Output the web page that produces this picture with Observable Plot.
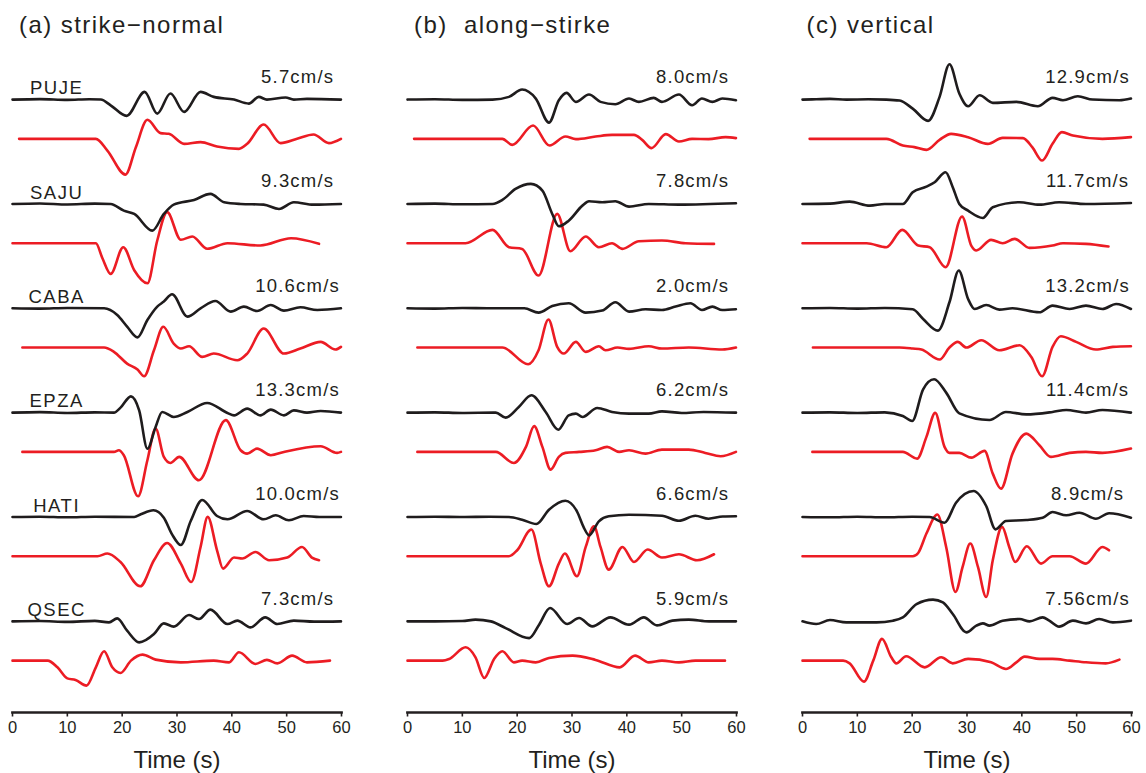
<!DOCTYPE html>
<html>
<head>
<meta charset="utf-8">
<script src="https://cdn.jsdelivr.net/npm/d3@7"></script>
<script src="https://cdn.jsdelivr.net/npm/@observablehq/plot@0.6"></script>
<style>
  body { margin: 0; background: #fff; }
  #fig { position: relative; width: 1146px; height: 773px; overflow: hidden; }
  #fig > div { position: absolute; top: 0; width: 360px; height: 773px; }
  #fig svg { overflow: visible; max-width: none; }
</style>
</head>
<body>
<div id="fig"></div>
<script>
// Stations, top to bottom
const stations = ["PUJE", "SAJU", "CABA", "EPZA", "HATI", "QSEC"];

// Peak observed ground velocity (cm/s) per station and component
const peakStrikeNormal = [5.7, 9.3, 10.6, 13.3, 10.0, 7.3];
const peakAlongStrike = [8.0, 7.8, 2.0, 6.2, 6.6, 5.9];
const peakVertical = [12.9, 11.7, 13.2, 11.4, 8.9, 7.56];

const timeTicks = [0, 10, 20, 30, 40, 50, 60];

// Normalised velocity traces: [time (s), amplitude]
// ---- strike-normal, observed ----
const snObsPUJE = [[0,0],[5,0.05],[10,-0.03],[14,0.03],[16.1,0],[17.9,-0.57],[20.8,-1.63],[24.1,0.77],[26.4,-1.4],[28.8,0.6],[31.3,-1.23],[34.3,0.77],[36.7,0.27],[40.4,0],[43.1,-0.4],[44.9,0.27],[46.4,0],[49.8,0.2],[51.3,0],[53.7,0.07],[59.9,0]];
const snObsSAJU = [[0,0],[5,0.05],[10,-0.05],[15,0.03],[17.9,0],[20.3,-0.67],[22.2,-1.0],[25.5,-2.67],[27.6,-1.0],[29.4,-0.07],[33.1,0.4],[36.1,1.0],[38.6,0.17],[41.6,0],[45.8,-0.07],[48.6,-0.5],[51.3,0.17],[54.9,-0.07],[59.9,0]];
const snObsCABA = [[0,0],[5,-0.03],[10,0.03],[16.7,0],[19.1,-0.67],[20.9,-1.83],[22.8,-2.9],[24.6,-1.17],[26.4,0.17],[27.6,0.67],[29.1,1.4],[31.9,-0.83],[34.3,0],[37.0,0.73],[39.8,-0.33],[42.2,0.17],[44.6,-0.27],[47.1,0.33],[49.5,-0.23],[52.5,0.1],[55.6,-0.17],[59.9,0]];
const snObsEPZA = [[0,0],[5,0.05],[10,-0.03],[15,0.03],[18.5,0],[19.7,0.5],[21.6,1.63],[23.1,0.23],[24.6,-3.6],[26.1,-1.43],[27.3,0.07],[29.4,-0.43],[31.9,0.07],[35.5,0.97],[39.2,-0.03],[40.4,-0.27],[42.8,0.4],[45.2,-0.27],[47.1,0.3],[49.5,-0.27],[51.3,0.23],[53.7,0],[56.2,0.17],[59.9,0]];
const snObsHATI = [[0,0],[5,0.03],[10,-0.03],[15,0.03],[22.2,0],[23.4,0.27],[25.7,0.67],[27.6,-0.07],[29.1,-1.73],[30.7,-2.8],[32.5,-0.4],[34.6,1.7],[37.3,0.1],[39.2,-0.23],[42.8,0.6],[45.8,-0.23],[48.0,0.17],[50.4,-0.33],[53.1,0.1],[56,0],[59.9,0]];
const snObsQSEC = [[0,0],[5,0.03],[10,-0.05],[15,0.05],[17.6,-0.1],[19.1,0.3],[20.9,-0.93],[23.1,-2.1],[25.8,-1.27],[27.6,-0.2],[29.4,-0.53],[32.2,0.63],[34.0,0.23],[36.1,1.17],[39.2,-0.27],[41.0,0.07],[43.4,-0.6],[46.1,0.4],[48.3,-0.27],[51.3,0.07],[55,-0.03],[59.9,0]];
// ---- strike-normal, synthetic ----
const snSynPUJE = [[1.2,0],[15.2,0],[17.3,-1.17],[20.6,-3.57],[22.5,-0.83],[24.6,1.9],[27.0,0.57],[28.5,0.5],[31.3,-0.5],[34.3,-0.33],[37.3,-0.77],[41.3,-1.0],[42.8,-0.5],[45.8,1.43],[48.9,-0.43],[51.9,0],[54.9,0.43],[57.7,-0.43],[59.9,0]];
const snSynSAJU = [[0,0],[15.2,0],[16.4,-1.5],[17.9,-3.06],[20.2,-0.4],[22.2,-2.7],[24.6,-4.0],[26.4,0.27],[28.2,3.1],[30.7,0.34],[32.8,0.67],[35.5,-0.56],[39.2,0],[45.2,-0.23],[50.8,0.5],[55.9,-0.06]];
const snSynCABA = [[1.8,0],[16.7,0],[18.5,-0.43],[20.9,-1.6],[22.8,-2.2],[24.0,-2.87],[25.8,-0.27],[27.5,2.07],[29.4,0.4],[30.7,-0.1],[32.2,0.13],[34.6,-0.93],[36.7,-0.6],[41.0,-1.27],[42.8,-0.6],[45.8,1.9],[49.5,-0.6],[52.5,-0.1],[56.2,0.57],[58.9,-0.2],[59.9,0.07]];
const snSynEPZA = [[1.8,0],[18.5,0],[19.4,0.17],[20.3,-0.33],[22.9,-4.43],[24.6,-0.83],[26.1,2.33],[27.6,-0.5],[28.8,-1.1],[30.4,-0.5],[34.0,-2.83],[38.9,3.17],[41.6,0.17],[42.8,-0.17],[44.6,0.33],[47.1,-0.33],[49.5,0],[56.2,0.57],[59.2,-0.1],[59.9,0]];
const snSynHATI = [[0,0],[15.5,0],[17.3,0.27],[19.7,-0.57],[23.3,-3.0],[25.8,-0.4],[28.2,1.33],[30.7,-0.73],[32.6,-2.57],[34.3,0.93],[35.6,3.93],[37.3,0.6],[38.4,-1.23],[40.4,-0.13],[41.9,-0.23],[44.3,0.43],[46.8,-0.4],[50.1,-0.13],[52.8,0.93],[54.6,-0.13],[55.9,-0.4]];
const snSynQSEC = [[0,0],[6.4,0],[8.2,-0.67],[10.0,-1.77],[11.5,-1.93],[13.5,-2.5],[15.2,-0.67],[16.7,0.93],[18.2,-0.67],[19.7,-1.23],[21.6,0],[23.7,0.6],[26.1,0.1],[30.7,-0.17],[36.7,0],[39.5,-0.17],[41.3,0.83],[44.3,-0.33],[46.4,0.07],[48.3,-0.27],[51.0,0.5],[53.7,-0.17],[57.9,0]];

// ---- along-strike, observed ----
const asObsPUJE = [[0,0],[5,0.03],[10,-0.03],[15.5,0],[18.5,0.27],[20.9,1.0],[23.4,0.1],[25.8,-2.3],[27.6,-0.07],[29.0,0.67],[30.7,-0.23],[33.1,0.5],[35.2,-0.23],[37.9,-0.47],[40.4,0.1],[42.2,-0.23],[44.9,0.17],[46.4,-0.23],[49.5,0.5],[51.9,-0.57],[53.7,0.1],[55.6,-0.23],[57.4,0.1],[59.9,-0.07]];
const asObsSAJU = [[0,0],[5,0.03],[10,-0.03],[15.5,0],[17.3,0.4],[19.7,1.5],[22.5,2.0],[24.6,1.33],[26.4,-1.0],[27.6,-2.23],[29.4,-1.67],[31.9,-0.17],[33.1,0.27],[35.5,0.17],[37.9,0.27],[40.4,-0.27],[44.0,0],[49.5,-0.07],[59.9,0.07]];
const asObsCABA = [[0,0],[5,-0.03],[10,0.03],[15,0],[21.3,0],[23.9,-0.43],[26.4,0.23],[29.4,0.5],[32.5,-0.43],[35.5,-0.23],[37.9,0.6],[40.4,-0.33],[43.4,-0.1],[46.4,-0.17],[48.9,0.17],[51.6,0.5],[53.7,-0.17],[55.6,0.17],[57.4,-0.17],[59.9,-0.1]];
const asObsEPZA = [[0,0],[5,0.03],[10,-0.03],[16.1,0],[17.9,-0.5],[20.3,0.57],[22.6,1.73],[25.2,0.07],[27.5,-1.7],[29.4,-0.27],[30.7,-0.1],[31.9,-0.43],[34.6,0.47],[37.3,0.07],[40.4,-0.1],[44.0,-0.1],[46.4,0.13],[50,-0.03],[54,0.07],[59.9,0]];
const asObsHATI = [[0,0],[5,0.03],[10,0],[15,0.03],[18.5,0],[20.9,-0.27],[23.5,-0.7],[25.8,0.73],[28.8,1.63],[30.9,0.57],[32.2,-1.1],[33.1,-1.83],[34.9,-0.43],[36.7,0.07],[40.4,0.23],[46.4,0.13],[49.5,-0.37],[52.5,0.13],[54.9,-0.17],[57.5,0.05],[59.9,0.07]];
const asObsQSEC = [[0,0],[5,0],[10,0.03],[12.4,0.17],[15.2,0],[17.9,-0.67],[22.2,-1.67],[24.0,-0.33],[26.0,1.33],[29.1,-0.27],[31.3,0.33],[33.7,-0.5],[37.0,0.4],[40.4,-0.33],[43.1,0.4],[45.5,-0.4],[48.3,0.07],[51.3,0.17],[55,0],[59.9,0]];
// ---- along-strike, synthetic ----
const asSynPUJE = [[1.2,0],[17.3,0],[19.1,-0.6],[22.9,1.33],[25.9,-0.67],[28.8,0.23],[30.7,-0.03],[34.3,0.23],[37.3,0.4],[41.3,0.4],[42.8,-0.1],[44.5,-0.93],[47.1,0.47],[49.5,-0.27],[51.9,0],[54.9,-0.03],[58.0,0.17],[59.9,0.07]];
const asSynSAJU = [[0,0],[10.6,0],[15.5,1.33],[18.5,-0.4],[20.9,-0.57],[23.9,-3.23],[27.3,2.93],[29.7,-0.8],[32.5,0.67],[34.9,-0.4],[37.3,0],[39.2,-0.57],[42.2,0.2],[46.4,0.27],[50.7,0],[55.9,-0.07]];
const asSynCABA = [[1.8,0],[17.3,0],[22.0,-1.67],[23.9,-0.27],[25.7,2.8],[27.3,0.07],[28.5,-0.6],[30.7,0.57],[32.5,-0.43],[34.9,0.13],[36.1,-0.27],[38.3,0],[40.4,-0.13],[44.0,0.13],[46.4,-0.1],[51.3,0],[57.4,-0.2],[59.9,0]];
const asSynEPZA = [[1.8,0],[16.1,0],[19.4,-1.1],[21.6,0.5],[23.1,2.57],[24.6,0.5],[26.1,-1.77],[27.6,-0.5],[28.8,-0.1],[31.3,0],[34.3,0.17],[36.4,0.5],[38.6,0],[40.4,0.17],[43.4,-0.17],[46.4,0.23],[51.3,0.23],[54.3,-0.1],[57.1,-0.43],[59.9,0]];
const asSynHATI = [[0,0],[18.5,0],[20.0,0.6],[22.6,2.67],[24.3,-0.73],[25.8,-3.0],[27.6,-0.73],[28.7,0.27],[30.9,-2.0],[32.5,0.93],[34.0,3.0],[35.2,0.93],[36.7,-1.33],[39.2,0.93],[41.3,-0.57],[43.8,0.67],[46.4,-0.13],[49.5,0.2],[52.8,-0.4],[55.9,0.2]];
const asSynQSEC = [[0,0],[6.4,0],[7.6,0.17],[10.6,1.33],[12.4,0.33],[14.0,-1.73],[15.8,0.17],[17.3,0.93],[19.4,-0.17],[20.9,0],[23.4,-0.17],[25.8,0.27],[30.1,0.5],[34.3,0.07],[38.7,-0.67],[41.5,0.5],[44.0,-0.17],[46.4,0],[49.5,-0.17],[52.5,0],[57.9,0]];

// ---- vertical, observed ----
const vtObsPUJE = [[0,0],[2.5,0.03],[5,0.07],[8,0],[12,0.03],[15.3,0],[17.7,-0.1],[20.1,-0.9],[22.9,-2.13],[25.0,0.27],[26.8,3.53],[28.6,0.6],[30.2,-0.67],[32.3,0.43],[34.7,-0.33],[39.0,-0.23],[42.9,-0.67],[45.6,0.17],[47.5,-0.07],[50.2,0.33],[52.9,0],[57.8,-0.07],[59.9,0.1]];
const vtObsSAJU = [[0,0],[5,0.03],[8.6,0.23],[12.3,-0.17],[15,0],[18.3,0],[20.1,1.17],[22.6,1.73],[24.1,2.17],[26.1,3.17],[27.4,1.67],[28.6,0],[30.2,-0.67],[32.9,-1.4],[34.7,-0.33],[39.6,0.17],[43.2,-0.07],[46.8,0.17],[51.7,0],[59.9,0.1]];
const vtObsCABA = [[0,0],[5,0.03],[10,-0.03],[15,0.03],[20.1,-0.1],[22.0,-1.07],[24.7,-2.23],[26.8,0.6],[28.5,3.77],[30.2,0.93],[31.4,-0.07],[33.5,0.33],[35.9,-0.13],[38.3,0],[43.2,-0.4],[45.6,0.27],[48.7,-0.07],[51.7,0.27],[54.7,-0.07],[57.2,0.43],[59.9,-0.07]];
const vtObsEPZA = [[0,0],[5,0.03],[10,-0.03],[15,0.03],[18.3,-0.33],[20.0,-0.83],[22.0,2.33],[24.0,3.33],[26.2,2.0],[28.6,-0.07],[34.1,-0.73],[37.1,0.07],[40.8,-0.17],[45.6,0.07],[48.1,0.27],[51.7,0],[54.7,0.27],[59.9,0]];
const vtObsHATI = [[0,0],[5,-0.03],[10,0.03],[15,-0.03],[20,0.03],[23.2,0],[25.9,-0.57],[28.0,1.43],[31.2,2.6],[33.5,1.1],[35.2,-1.23],[37.1,-0.4],[40.8,-0.3],[43.8,-0.07],[45.6,0.5],[48.1,0.17],[50.5,0.43],[53.5,-0.17],[55.9,0.37],[59.9,-0.07]];
const vtObsQSEC = [[0,0],[2.5,-0.27],[5,0.13],[8,-0.1],[13.5,-0.1],[16.5,0.07],[18.3,0.4],[20.8,1.73],[23.8,2.17],[25.6,1.9],[27.4,0.73],[29.9,-1.1],[31.7,-0.43],[32.9,-0.2],[34.1,-0.43],[36.5,0.07],[39.6,0.23],[41.4,0],[43.8,0.4],[45.0,0.07],[46.8,-0.53],[49.3,0.07],[51.7,-0.2],[54.1,0.23],[56.6,-0.1],[59.9,0.07]];
// ---- vertical, synthetic ----
const vtSynPUJE = [[1.3,0],[15.3,0],[18.3,-0.67],[20.4,-0.83],[22.6,-1.1],[25.0,-0.1],[27.1,0.5],[30.2,0.17],[33.8,-0.5],[36.5,0.1],[40.2,0.07],[41.9,-0.83],[43.7,-2.17],[45.6,-0.5],[47.3,0.67],[49.3,0.33],[54.7,0],[59.9,0.17]];
const vtSynSAJU = [[0,0],[11.7,0],[15.3,-0.4],[18.2,1.33],[21.1,-0.23],[23.2,-0.4],[26.1,-2.4],[29.1,2.67],[30.8,-0.27],[31.7,-0.73],[34.4,0.33],[36.5,0],[38.7,0.43],[41.4,-0.47],[45.6,-0.23],[47.5,0],[51.7,-0.07],[55.8,-0.33]];
const vtSynCABA = [[1.9,0],[17.7,0],[20.1,-0.1],[21.7,-0.2],[25.0,-1.2],[26.8,0],[28.3,0.57],[29.9,0],[32.6,0.73],[35.9,-0.27],[39.6,0.23],[41.7,-0.93],[43.7,-2.87],[45.6,0.07],[47.1,1.13],[49.9,0.57],[53.5,-0.2],[56.6,0.07],[59.9,0.13]];
const vtSynEPZA = [[1.8,0],[18.3,0],[20.9,-0.67],[22.6,1.5],[24.2,3.9],[25.9,0.5],[26.8,-0.1],[28.6,-0.1],[30.8,-0.57],[33.2,0.1],[34.7,-2.17],[36.2,-3.67],[38.3,-0.17],[40.8,1.83],[43.2,0.67],[45.3,-0.5],[48.7,-0.1],[51.7,0],[54.7,-0.1],[59.9,0.33]];
const vtSynHATI = [[0,0],[20.1,0],[21.1,0.33],[22.6,2.27],[24.6,4.17],[26.2,0.93],[27.9,-3.57],[29.2,-1.07],[30.6,1.27],[32.0,-1.07],[33.5,-4.07],[34.7,-0.4],[36.4,2.93],[37.7,0.93],[38.8,-0.57],[40.9,1.0],[43.5,-0.73],[45.6,0],[48.7,0],[51.7,-0.73],[54.7,0.93],[55.9,0.6]];
const vtSynQSEC = [[0,0],[7.4,0],[8.6,-0.27],[11.2,-2.1],[12.9,0],[14.5,2.17],[16.2,0.33],[17.1,-0.27],[18.9,0.43],[22.3,-0.67],[25.3,0.33],[27.4,-0.27],[30.2,0.17],[34.4,-0.17],[37.1,-0.83],[39.0,-0.17],[40.5,0.4],[43.2,0.17],[45.6,0.17],[48.7,0],[51.7,-0.17],[55.3,-0.27],[57.8,0.1]];

// ---------------------------------------------------------------
const BLACK = "#1f1c1d";
const RED = "#ec1c24";
const INK = "#231f20";
const FONT = "'Liberation Sans', Arial, Helvetica, sans-serif";

const ROW_STEP = 10.42;   // vertical spacing between stations (amplitude units)
const SYN_SHIFT = 3.92;   // synthetic trace sits below the observed one

const panels = [
  {title: "(a) strike\u2212normal", left: 0, peaks: peakStrikeNormal, names: true,
   obs: [snObsPUJE, snObsSAJU, snObsCABA, snObsEPZA, snObsHATI, snObsQSEC],
   syn: [snSynPUJE, snSynSAJU, snSynCABA, snSynEPZA, snSynHATI, snSynQSEC], titleDx: 6.5},
  {title: "(b)  along\u2212stirke", left: 395, peaks: peakAlongStrike, names: false,
   obs: [asObsPUJE, asObsSAJU, asObsCABA, asObsEPZA, asObsHATI, asObsQSEC],
   syn: [asSynPUJE, asSynSAJU, asSynCABA, asSynEPZA, asSynHATI, asSynQSEC], titleDx: 6.5},
  {title: "(c) vertical", left: 790, peaks: peakVertical, names: false,
   obs: [vtObsPUJE, vtObsSAJU, vtObsCABA, vtObsEPZA, vtObsHATI, vtObsQSEC],
   syn: [vtSynPUJE, vtSynSAJU, vtSynCABA, vtSynEPZA, vtSynHATI, vtSynQSEC], titleDx: 4}
];

const fmtPeak = v => (Number.isInteger(Math.round(v * 100) / 10) ? v.toFixed(1) : String(v)) + "cm/s";

function rowsOf(traces, kind) {
  const out = [];
  traces.forEach((pts, k) => {
    const base = -ROW_STEP * k - (kind === "syn" ? SYN_SHIFT : 0);
    for (const [t, a] of pts) out.push({id: `${kind}-${k}`, t, y: base + a});
  });
  return out;
}

const fig = document.getElementById("fig");

for (const p of panels) {
  const synRows = rowsOf(p.syn, "syn");
  const obsRows = rowsOf(p.obs, "obs");
  const labels = stations.map((s, k) => ({s, k, base: -ROW_STEP * k, peak: p.peaks[k]}));

  const chart = Plot.plot({
    width: 360,
    height: 773,
    marginLeft: 12,
    marginRight: 19,
    marginTop: 49,
    marginBottom: 61,
    style: {fontFamily: FONT, color: INK, background: "transparent", maxWidth: "none"},
    x: {domain: [0, 60]},
    y: {domain: [5, -61], range: [49, 710], axis: null},
    marks: [
      Plot.line(synRows, {x: "t", y: "y", z: "id", stroke: RED, strokeWidth: 2.6, curve: "monotone-x"}),
      Plot.line(obsRows, {x: "t", y: "y", z: "id", stroke: BLACK, strokeWidth: 2.6, curve: "monotone-x"}),
      Plot.text(labels, {x: 52, y: d => d.base + 1.66, text: d => fmtPeak(d.peak), textAnchor: "middle",
        lineAnchor: "bottom", fontSize: 18.5, fill: INK}),
      p.names ? Plot.text(labels, {x: 8.05, y: d => d.base + 0.53, text: "s", textAnchor: "middle",
        lineAnchor: "bottom", fontSize: 18.5, fill: INK}) : null,
      Plot.frame({anchor: "bottom", stroke: INK, strokeWidth: 2.7}),
      Plot.axisX({ticks: timeTicks, tickSize: 4.5, tickPadding: 4.5, fontSize: 16.5, stroke: INK,
        strokeWidth: 1.6, strokeOpacity: 1, fill: INK, label: null}),
      Plot.text([p.title], {frameAnchor: "top-left", text: d => d, textAnchor: "start", lineAnchor: "bottom",
        dx: p.titleDx, dy: -16.5, fontSize: 24, fill: INK}),
      Plot.text(["Time (s)"], {frameAnchor: "bottom", text: d => d, textAnchor: "middle", lineAnchor: "bottom",
        dy: 55, fontSize: 24, fill: INK})
    ]
  });

  // Wider tracking for the title, station names and peak-velocity labels
  d3.select(chart).selectAll("text").each(function () {
    const s = this.textContent;
    if (s === p.title) this.style.letterSpacing = "1.45px";
    else if (stations.includes(s)) this.style.letterSpacing = "1.5px";
    else if (s.endsWith("cm/s")) this.style.letterSpacing = "1.2px";
  });

  const holder = document.createElement("div");
  holder.style.left = p.left + "px";
  holder.appendChild(chart);
  fig.appendChild(holder);
}
</script>
</body>
</html>
